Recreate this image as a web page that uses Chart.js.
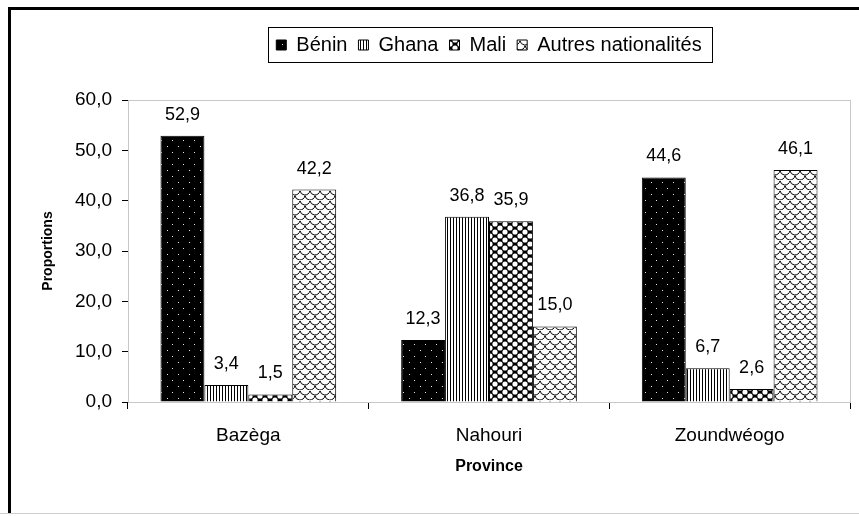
<!DOCTYPE html>
<html>
<head>
<meta charset="utf-8">
<script src="https://cdn.jsdelivr.net/npm/chart.js@4/dist/chart.umd.min.js"></script>
<style>
  html, body { margin: 0; padding: 0; background: #fff; }
  #wrap { position: relative; width: 859px; height: 516px; overflow: hidden; }
  #frame { position: absolute; left: 8px; top: 7px; right: -10px; bottom: 3px;
           border-left: 3px solid #000; border-top: 3px solid #000; }
  #bottomLine { position: absolute; left: 0; right: 0; top: 513px; height: 1px; background: #cfcfcf; }
  canvas { position: absolute; left: 0; top: 0; }
</style>
</head>
<body>
<div id="wrap">
  <div id="frame"></div>
  <div id="bottomLine"></div>
  <canvas id="chart" width="859" height="516"></canvas>
</div>
<script>
/* ==========================================
   Data
========================================== */
const provinces = ["Bazèga", "Nahouri", "Zoundwéogo"];
const nationalities = ["Bénin", "Ghana", "Mali", "Autres nationalités"];
const benin = [52.9, 12.3, 44.6];
const ghana = [3.4, 36.8, 6.7];
const mali = [1.5, 35.9, 2.6];
const autres = [42.2, 15.0, 46.1];
const yTicks = [0, 10, 20, 30, 40, 50, 60];

const FONT = "'Liberation Sans', Arial, sans-serif";
const fmt = v => v.toFixed(1).replace(".", ",");

/* ==========================================
   Fill patterns
========================================== */
function makePattern(w, h, draw) {
  const c = document.createElement("canvas");
  c.width = w;
  c.height = h;
  const g = c.getContext("2d");
  draw(g, w, h);
  return g.createPattern(c, "repeat");
}

const dotPattern = makePattern(11, 12, (g, w, h) => {
  g.fillStyle = "#000";
  g.fillRect(0, 0, w, h);
  g.fillStyle = "#e6e6e6";
  g.fillRect(2, 2, 1, 1);
  g.fillRect(7, 8, 1, 1);
});

const stripePattern = makePattern(3, 1, (g, w, h) => {
  g.fillStyle = "#fff";
  g.fillRect(0, 0, w, h);
  g.fillStyle = "#000";
  g.fillRect(0, 0, 1, h);
});

// black diamonds with round white gaps between them
const diamondPattern = makePattern(10, 8, (g, w, h) => {
  g.fillStyle = "#000";
  g.fillRect(0, 0, w, h);
  g.fillStyle = "#fff";
  [[5, 0], [0, 4], [10, 4], [5, 8]].forEach(([cx, cy]) => {
    g.beginPath();
    g.arc(cx, cy, 2.6, 0, Math.PI * 2);
    g.fill();
  });
});

const scalePattern = makePattern(10, 10, (g, w, h) => {
  g.fillStyle = "#fff";
  g.fillRect(0, 0, w, h);
  g.strokeStyle = "#000";
  g.lineWidth = 1;
  [[5, 0], [0, 5], [10, 5], [5, 10]].forEach(([cx, cy]) => {
    g.beginPath();
    g.arc(cx, cy, 5, 0.15, Math.PI - 0.15);
    g.stroke();
  });
});

const fills = [dotPattern, stripePattern, diamondPattern, scalePattern];
const series = [benin, ghana, mali, autres];

/* ==========================================
   Plugins
========================================== */
const legendHeight = {
  id: "legendHeight",
  beforeInit(chart) {
    const fit = chart.legend.fit;
    chart.legend.fit = function () {
      fit.call(this);
      this.height = 76;
    };
  }
};

const legendBorder = {
  id: "legendBorder",
  afterDraw(chart) {
    const boxes = chart.legend.legendHitBoxes;
    if (!boxes || !boxes.length) return;
    const left = Math.min(...boxes.map(b => b.left)) - 8;
    const right = Math.max(...boxes.map(b => b.left + b.width)) + 11;
    const mid = boxes[0].top + boxes[0].height / 2;
    const ctx = chart.ctx;
    ctx.save();
    ctx.strokeStyle = "#000";
    ctx.lineWidth = 1;
    ctx.strokeRect(Math.round(left) + 0.5, Math.round(mid - 18) + 0.5,
                   Math.round(right - left), 35);
    ctx.restore();
  }
};

const plotFrame = {
  id: "plotFrame",
  beforeDatasetsDraw(chart) {
    const a = chart.chartArea;
    const ctx = chart.ctx;
    ctx.save();
    ctx.strokeStyle = "#c8c8c8";
    ctx.lineWidth = 1;
    ctx.strokeRect(a.left + 0.5, a.top + 0.5, a.right - a.left, a.bottom - a.top);
    ctx.restore();
  }
};

const valueLabels = {
  id: "valueLabels",
  afterDatasetsDraw(chart) {
    const ctx = chart.ctx;
    ctx.save();
    ctx.font = "18px " + FONT;
    ctx.fillStyle = "#000";
    ctx.textAlign = "center";
    ctx.textBaseline = "middle";
    chart.data.datasets.forEach((ds, i) => {
      chart.getDatasetMeta(i).data.forEach((bar, j) => {
        ctx.fillText(fmt(ds.data[j]), bar.x, bar.y - 21);
      });
    });
    ctx.restore();
  }
};

/* ==========================================
   Chart
========================================== */
new Chart(document.getElementById("chart"), {
  type: "bar",
  data: {
    labels: provinces,
    datasets: nationalities.map((name, i) => ({
      label: name,
      data: series[i],
      backgroundColor: fills[i],
      borderColor: "#000",
      borderWidth: 1,
      borderSkipped: "start",
      categoryPercentage: 0.73,
      barPercentage: 1.0
    }))
  },
  options: {
    responsive: false,
    animation: false,
    devicePixelRatio: 1,
    layout: { padding: { top: 24, left: 0, right: 9, bottom: 0 } },
    plugins: {
      legend: {
        position: "top",
        fullSize: false,
        labels: {
          color: "#000",
          font: { family: FONT, size: 20 },
          boxWidth: 10,
          boxHeight: 10,
          padding: 11
        }
      },
      tooltip: { enabled: false }
    },
    scales: {
      x: {
        afterFit: scale => { scale.height = 114; },
        border: { color: "#000", width: 1 },
        grid: {
          offset: true,
          drawOnChartArea: false,
          color: "#000",
          tickLength: 7
        },
        ticks: {
          color: "#000",
          font: { family: FONT, size: 19 },
          padding: 15
        },
        title: {
          display: true,
          text: "Province",
          color: "#000",
          font: { family: FONT, size: 16, weight: "bold" },
          padding: { top: 0, bottom: 40 }
        }
      },
      y: {
        min: yTicks[0],
        max: yTicks[yTicks.length - 1],
        afterFit: scale => { scale.width = 128; },
        afterBuildTicks: scale => {
          scale.ticks = yTicks.map(v => ({ value: v }));
        },
        border: { color: "#000", width: 1 },
        grid: {
          drawOnChartArea: false,
          color: "#000",
          tickLength: 6
        },
        ticks: {
          color: "#000",
          font: { family: FONT, size: 19 },
          padding: 10,
          callback: v => fmt(v)
        },
        title: {
          display: true,
          text: "Proportions",
          color: "#000",
          font: { family: FONT, size: 14, weight: "bold" },
          padding: { top: 40, bottom: 0 }
        }
      }
    }
  },
  plugins: [legendHeight, legendBorder, plotFrame, valueLabels]
});
</script>
</body>
</html>
